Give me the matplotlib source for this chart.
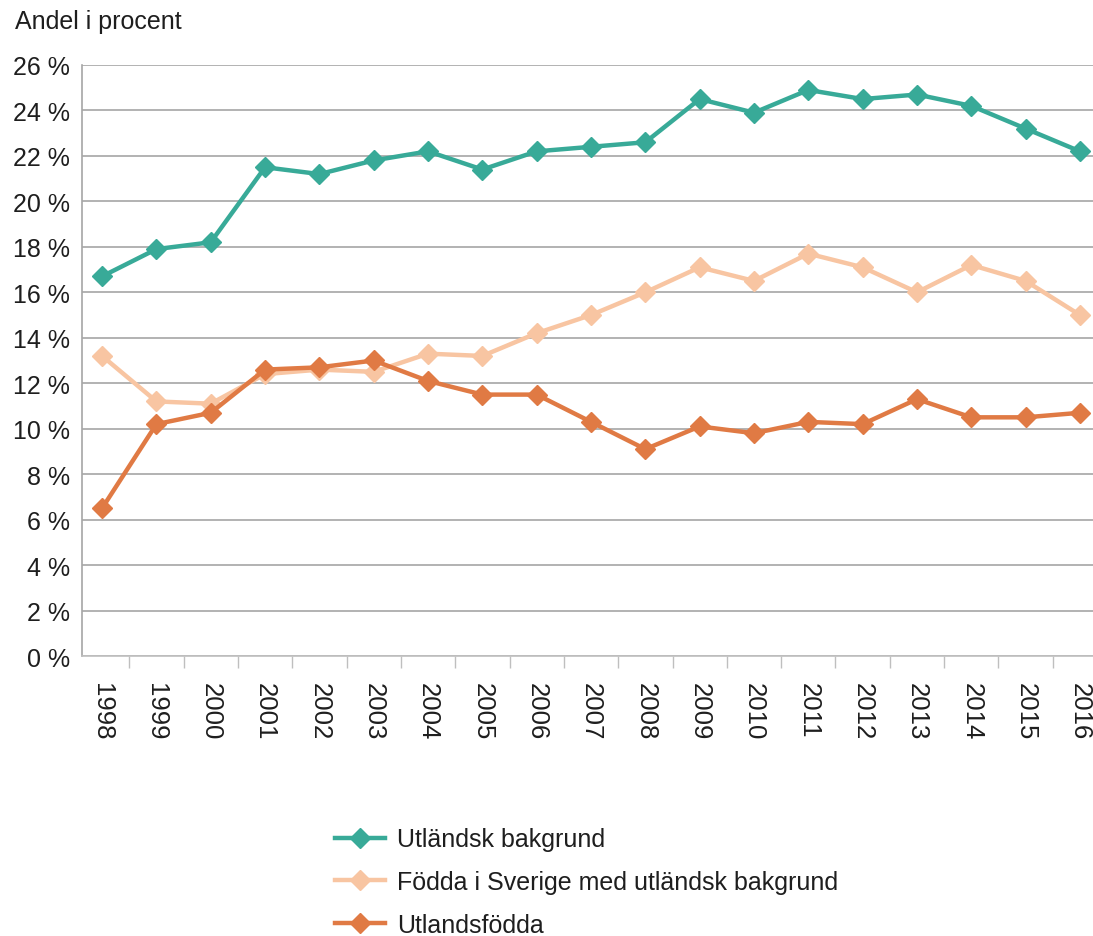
import matplotlib
matplotlib.use("Agg")
import matplotlib.pyplot as plt
import numpy as np
from matplotlib.ticker import FixedLocator

years = list(range(1998, 2017))
utlandsk_bakgrund = [16.7, 17.9, 18.2, 21.5, 21.2, 21.8, 22.2, 21.4, 22.2, 22.4,
                     22.6, 24.5, 23.9, 24.9, 24.5, 24.7, 24.2, 23.2, 22.2]
fodda_i_sverige = [13.2, 11.2, 11.1, 12.4, 12.6, 12.5, 13.3, 13.2, 14.2, 15.0,
                   16.0, 17.1, 16.5, 17.7, 17.1, 16.0, 17.2, 16.5, 15.0]
utlandsfodda = [6.5, 10.2, 10.7, 12.6, 12.7, 13.0, 12.1, 11.5, 11.5, 10.3,
                9.1, 10.1, 9.8, 10.3, 10.2, 11.3, 10.5, 10.5, 10.7]
series_labels = ["Utländsk bakgrund",
                 "Födda i Sverige med utländsk bakgrund",
                 "Utlandsfödda"]
colors = ["#38aa98", "#f8c5a2", "#e07a44"]
y_ticks = list(range(0, 27, 2))

plt.rcParams["font.family"] = ["Liberation Sans", "DejaVu Sans"]
txt_col = "#1e1e1e"

fig = plt.figure(figsize=(10.93, 9.37), dpi=100)
ax = fig.add_axes([0.075, 0.2988, 0.925, 0.6308])

x = np.arange(len(years))
for vals, lab, col in zip([utlandsk_bakgrund, fodda_i_sverige, utlandsfodda],
                          series_labels, colors):
    ax.plot(x, vals, color=col, lw=3.2, marker="D", ms=10, label=lab,
            solid_joinstyle="round")

ax.set_ylim(0, 26)
ax.set_xlim(-0.37, len(years) - 1 + 0.24)
ax.set_yticks(y_ticks)
ax.set_yticklabels([f"{v} %" for v in y_ticks], fontsize=18, color=txt_col)
ax.tick_params(axis="y", length=0, pad=8.5)

ax.set_xticks(x)
ax.set_xticklabels([str(y) for y in years], rotation=-90, fontsize=18.5,
                   color=txt_col, va="top", ha="center")
ax.tick_params(axis="x", which="major", length=0, pad=19)
ax.xaxis.set_minor_locator(FixedLocator(x[:-1] + 0.5))
ax.tick_params(axis="x", which="minor", length=8.5, width=1, color="#bfbfbf",
               direction="out")

ax.grid(axis="y", color="#a6a6a6", lw=1.2)
ax.set_axisbelow(True)
for s in ["top", "right"]:
    ax.spines[s].set_visible(False)
ax.spines["left"].set_color("#a6a6a6")
ax.spines["bottom"].set_color("#bfbfbf")
ax.spines["left"].set_linewidth(1.2)
ax.spines["bottom"].set_linewidth(1.2)

fig.text(0.014, 0.976, "Andel i procent", fontsize=18, color=txt_col,
         va="center", ha="left")

fig.legend(loc="center left", bbox_to_anchor=(0.3065, 0.0576), frameon=False,
           fontsize=18, handlelength=2.0, labelspacing=0.75,
           handletextpad=0.48, borderpad=0, borderaxespad=0,
           labelcolor=txt_col)

fig.savefig("out.png", dpi=100)
